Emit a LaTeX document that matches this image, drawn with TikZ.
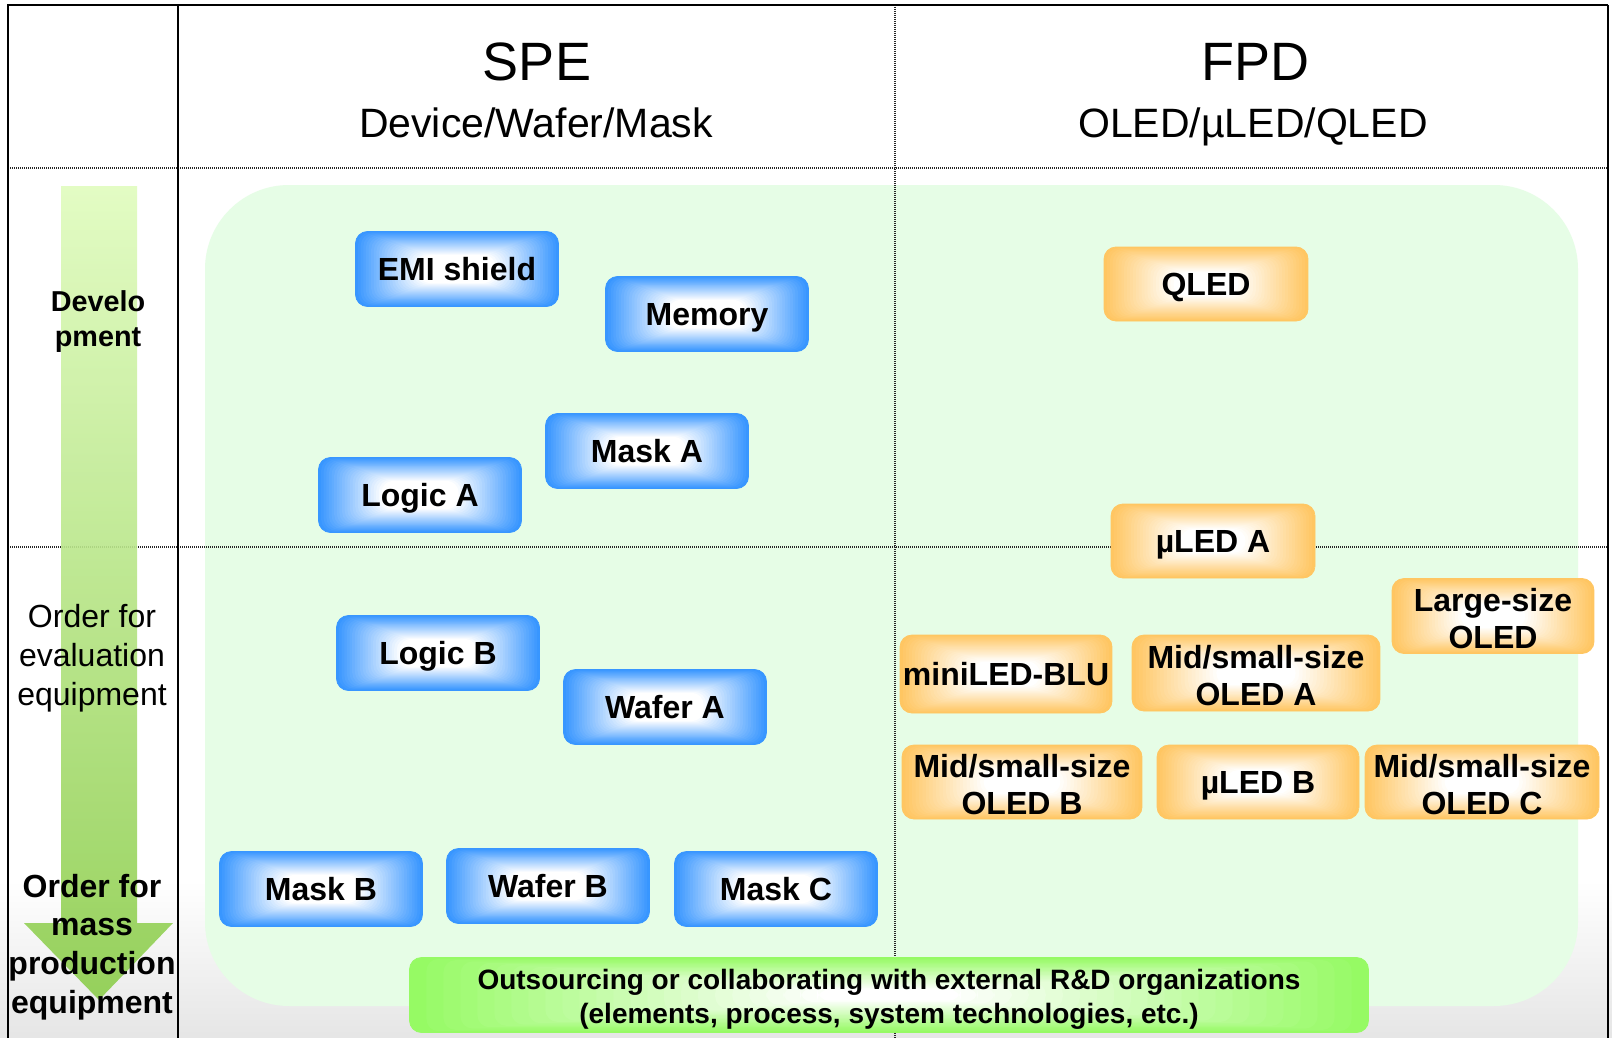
\documentclass[tikz,border=0pt]{standalone}
\usepackage{fontspec}
\setmainfont{Liberation Sans}
\usetikzlibrary{calc}
\definecolor{bluebase}{RGB}{56,150,255}
\definecolor{orangebase}{RGB}{255,198,98}
\definecolor{greenbase}{RGB}{150,250,100}
\definecolor{bgpale}{RGB}{230,253,230}
\definecolor{arrowtop}{RGB}{224,252,190}
\definecolor{arrowbot}{RGB}{140,205,76}
\tikzset{
  gradfill/.style 2 args={
    path picture={
      \foreach \i in {0,...,24}{
        \pgfmathsetmacro{\gfrac}{#2*\i/24}
        \pgfmathsetmacro{\gpct}{100*\i/24}
        \fill[white!\gpct!#1]
          ($(path picture bounding box.south west)!\gfrac!(path picture bounding box.center)$)
          rectangle
          ($(path picture bounding box.north east)!\gfrac!(path picture bounding box.center)$);
      }
    }
  },
  boxbase/.style={rounded corners=6pt, inner sep=0pt, align=center, text=black,
    font=\fontsize{16}{18.5}\selectfont\bfseries},
  oneline/.style={text height=11.5pt, text depth=0pt},
  twoline/.style={text height=32pt, text depth=0pt},
  bluebox/.style={boxbase, oneline, draw=bluebase, line width=0.4pt, gradfill={bluebase}{0.62},
    minimum width=101.5pt, minimum height=37.5pt},
  orangebox/.style={boxbase, draw=orangebase, line width=0.4pt, gradfill={orangebase}{0.68}},
  greenbox/.style={boxbase, draw=greenbase, line width=0.4pt, gradfill={greenbase}{0.85},
    font=\fontsize{14}{17}\selectfont\bfseries, text height=28.2pt, text depth=0pt},
  dotline/.style={line width=1.3pt, black!85, dash pattern=on 0.5pt off 0.5pt},
  frameline/.style={line width=1.3pt, black},
  headbig/.style={font=\fontsize{27}{30}\selectfont, anchor=base},
  headsmall/.style={font=\fontsize{20.5}{24}\selectfont, anchor=base},
}
\begin{document}
\begin{tikzpicture}[x=0.5pt, y=-0.5pt]
\useasboundingbox (0,0) rectangle (1612,1038);
% page background
\fill[white] (0,0) rectangle (1612,1038);
\shade[top color=white, bottom color=black!10] (0,880) rectangle (1612,1038);
% pale green area
\fill[bgpale, rounded corners=42pt] (205,185) rectangle (1578,1006);
% dotted grid lines
\draw[dotline] (8,168) -- (1608,168);
\draw[dotline] (8,547) -- (1608,547);
\draw[dotline] (895,5) -- (895,1045);
% solid frame
\draw[frameline] (8,1045) -- (8,5) -- (1608,5);
\draw[line width=0.8pt] (1608,5) -- (1608,1045);
\draw[frameline] (178,5) -- (178,1045);
% arrow
\shade[top color=arrowtop, bottom color=arrowbot, opacity=0.9]
  (61,186) -- (137,186) -- (137,923) -- (173,923) -- (99,1000) -- (24,923) -- (61,923) -- cycle;
% headers
\node[headbig] (spe) at (537,81) {SPE};
\node[headsmall] (spesub) at (536,138) {Device/Wafer/Mask};
\node[headbig] (fpd) at (1255,81) {FPD};
\node[headsmall] (fpdsub) at (1253,138) {OLED/µLED/QLED};
% row labels
\node[align=center, font=\fontsize{14.4}{17.5}\selectfont\bfseries] (dev) at (98,322) {Develo\\pment};
\node[align=center, font=\fontsize{16}{19.5}\selectfont] (evalq) at (92,658) {Order for\\evaluation\\equipment};
\node[align=center, font=\fontsize{16}{19.3}\selectfont\bfseries] (massq) at (92,947) {Order for\\mass\\production\\equipment};
% SPE boxes
\node[bluebox] (emi) at (457,269) {EMI shield};
\node[bluebox] (mem) at (707,314) {Memory};
\node[bluebox] (maska) at (647,451) {Mask A};
\node[bluebox] (logica) at (420,495) {Logic A};
\node[bluebox] (logicb) at (438,653) {Logic B};
\node[bluebox] (wafera) at (665,707) {Wafer A};
\node[bluebox] (maskb) at (321,889) {Mask B};
\node[bluebox] (waferb) at (548,886) {Wafer B};
\node[bluebox] (maskc) at (776,889) {Mask C};
% FPD boxes
\node[orangebox, oneline, minimum width=102pt, minimum height=37pt] (qled) at (1206,284) {QLED};
\node[orangebox, oneline, minimum width=102pt, minimum height=37pt] (uleda) at (1213,541) {µLED A};
\node[orangebox, twoline, minimum width=101pt, minimum height=37.5pt] (large) at (1493,616) {Large-size\\OLED};
\node[orangebox, oneline, minimum width=106pt, minimum height=39pt] (mini) at (1006,674) {miniLED-BLU};
\node[orangebox, twoline, minimum width=124pt, minimum height=38pt] (oleda) at (1256,673) {Mid/small-size\\OLED A};
\node[orangebox, twoline, minimum width=120pt, minimum height=37pt] (oledb) at (1022,782) {Mid/small-size\\OLED B};
\node[orangebox, oneline, minimum width=101pt, minimum height=37pt] (uledb) at (1258,782) {µLED B};
\node[orangebox, twoline, minimum width=117pt, minimum height=37pt] (oledc) at (1482,782) {Mid/small-size\\OLED C};
% outsourcing box
\node[greenbox, minimum width=479.5pt, minimum height=37.5pt] (outs) at (889,995)
  {Outsourcing or collaborating with external R\&D organizations\\(elements, process, system technologies, etc.)};
\end{tikzpicture}
\end{document}
